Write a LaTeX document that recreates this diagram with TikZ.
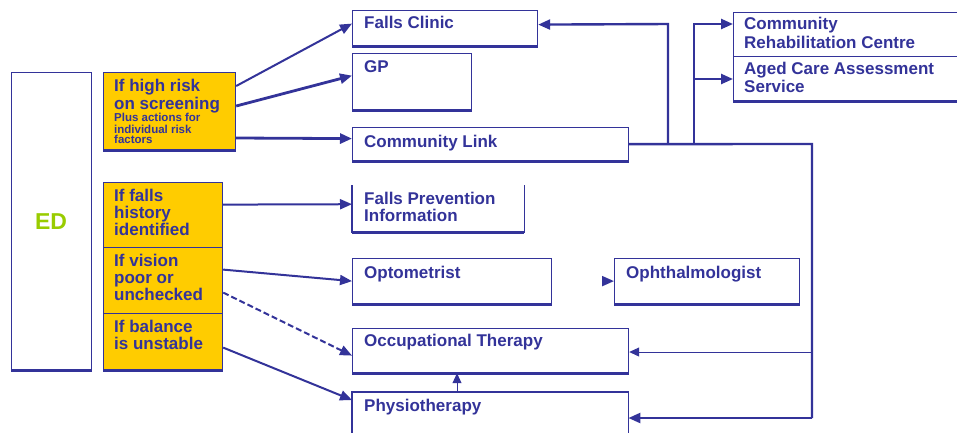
\documentclass[tikz,border=0pt]{standalone}
\usepackage{fontspec}
\setmainfont{Liberation Sans}
\usetikzlibrary{arrows.meta}
\definecolor{navy}{RGB}{51,51,153}
\definecolor{amber}{RGB}{255,204,0}
\definecolor{lime}{RGB}{153,204,0}

\begin{document}
\begin{tikzpicture}[x=1pt,y=-1pt,
  box/.style={draw=navy, line width=1.2pt, inner sep=0pt, anchor=north west},
  cond/.style={box, fill=amber},
  frame/.style={inner sep=0pt, anchor=north west},
  side/.style={draw=navy, line width=1.2pt},
  floor/.style={draw=navy, line width=2.6pt},
  lbl/.style={text=navy, font=\bfseries\fontsize{17}{17}\selectfont, anchor=base west, inner sep=0pt},
  small/.style={lbl, font=\bfseries\fontsize{11.5}{11.5}\selectfont},
  tip/.style={-{Triangle[length=12pt,width=10pt]}},
  link/.style={draw=navy, line width=2pt, tip},
  heavylink/.style={draw=navy, line width=2.8pt, tip},
  trunk/.style={draw=navy, line width=2.4pt},
  twig/.style={draw=navy, line width=1pt, -{Triangle[length=10pt,width=9pt]}}
]
\useasboundingbox (0,0) rectangle (957,432);
\clip (0,0) rectangle (957,432);

% ---------- left column ----------
\node[box, minimum width=80, minimum height=297] (ed) at (11,72) {};
\node[text=lime, font=\bfseries\fontsize{23}{23}\selectfont, inner sep=0pt] (edt) at (51,222) {ED};

\node[cond, minimum width=132, minimum height=77] (hr) at (103,72) {};
\node[lbl] (hr1) at ([shift={(11,19)}]hr.north west) {If high risk};
\node[lbl] (hr2) at ([shift={(11,37)}]hr.north west) {on screening};
\node[small] (hr3) at ([shift={(11,49)}]hr.north west) {Plus actions for};
\node[small] (hr4) at ([shift={(11,61)}]hr.north west) {individual risk};
\node[small] (hr5) at ([shift={(11,71)}]hr.north west) {factors};

\node[cond, minimum width=119, minimum height=65] (fh) at (103,182) {};
\node[lbl] (fh1) at ([shift={(11,19)}]fh.north west) {If falls};
\node[lbl] (fh2) at ([shift={(11,36)}]fh.north west) {history};
\node[lbl] (fh3) at ([shift={(11,53)}]fh.north west) {identified};

\node[cond, minimum width=119, minimum height=66] (vi) at (103,247) {};
\node[lbl] (vi1) at ([shift={(11,19)}]vi.north west) {If vision};
\node[lbl] (vi2) at ([shift={(11,36)}]vi.north west) {poor or};
\node[lbl] (vi3) at ([shift={(11,53)}]vi.north west) {unchecked};

\node[cond, minimum width=119, minimum height=56] (ba) at (103,313) {};
\node[lbl] (ba1) at ([shift={(11,19)}]ba.north west) {If balance};
\node[lbl] (ba2) at ([shift={(11,36)}]ba.north west) {is unstable};

% ---------- services ----------
\node[box, minimum width=185, minimum height=35] (fc) at (352,10) {};
\node[lbl] (fct) at ([shift={(12,18)}]fc.north west) {Falls Clinic};

\node[box, minimum width=119, minimum height=56] (gp) at (352,53) {};
\node[lbl] (gpt) at ([shift={(12,19)}]gp.north west) {GP};

\node[box, minimum width=276, minimum height=33] (cl) at (352,127) {};
\node[lbl] (clt) at ([shift={(12,20)}]cl.north west) {Community Link};

\node[frame, minimum width=172, minimum height=47] (fp) at (352,185) {};
\draw[side] (fp.north west) -- (fp.south west) -- (fp.south east) -- (fp.north east);
\node[lbl] (fp1) at ([shift={(12,19)}]fp.north west) {Falls Prevention};
\node[lbl] (fp2) at ([shift={(12,36)}]fp.north west) {Information};

\node[box, minimum width=199, minimum height=45] (op) at (352,258) {};
\node[lbl] (opt) at ([shift={(12,20)}]op.north west) {Optometrist};

\node[box, minimum width=185, minimum height=45] (oph) at (614,258) {};
\node[lbl] (opht) at ([shift={(12,20)}]oph.north west) {Ophthalmologist};

\node[box, minimum width=276, minimum height=44] (ot) at (352,328) {};
\node[lbl] (ott) at ([shift={(12,18)}]ot.north west) {Occupational Therapy};

\node[frame, minimum width=276, minimum height=50] (ph) at (352,392) {};
\draw[side] (ph.south west) -- (ph.north west) -- (ph.north east) -- (ph.south east);
\node[lbl] (pht) at ([shift={(12,19)}]ph.north west) {Physiotherapy};

\node[box, minimum width=250, minimum height=44] (rc) at (733,12) {};
\node[lbl] (rc1) at ([shift={(11,17)}]rc.north west) {Community};
\node[lbl] (rc2) at ([shift={(11,36)}]rc.north west) {Rehabilitation Centre};

\node[box, minimum width=250, minimum height=44] (ac) at (733,56) {};
\node[lbl] (ac1) at ([shift={(11,18)}]ac.north west) {Aged Care Assessment};
\node[lbl] (ac2) at ([shift={(11,36)}]ac.north west) {Service};

% heavier lower edges
\foreach \n in {ed,hr,ba,fc,gp,cl,fp,op,oph,ot,ac}
  \draw[floor] (\n.south west) -- (\n.south east);

% ---------- referrals from ED ----------
\draw[link] ([yshift=-14pt]hr.north east) -- ([yshift=4.5pt]fc.west);
\draw[heavylink] ([yshift=-34pt]hr.north east) -- ([yshift=6pt]gp.west);
\draw[heavylink] ([yshift=-66pt]hr.north east) -- ([yshift=5.5pt]cl.west);
\draw[link] ([yshift=10.5pt]fh.east) -- ([yshift=4.5pt]fp.west);
\draw[link] ([yshift=11pt]vi.east) -- (op.west);
\draw[link, dash pattern=on 6pt off 3pt] ([yshift=-12pt]vi.east) -- ([yshift=-5pt]ot.west);
\draw[link] ([yshift=-6pt]ba.east) -- ([yshift=-8pt]ph.north west);
\draw[link] ([xshift=-11pt]oph.west) -- (oph.west);

% ---------- onward pathways from Community Link ----------
\coordinate (ja) at (668,144);
\coordinate (jb) at (694,144);
\coordinate (rt) at (812,144);
\coordinate (rb) at (812,418);
\coordinate (rm) at (812,352);
\draw[trunk] (cl.east) -- (rt) -- (rb);
\draw[trunk, tip] (rb) -- (ph.east |- rb);
\draw[twig] (rm) -- (ot.east |- rm);
\draw[trunk, tip] (ja) -- (668,24) -- ([yshift=3.5pt]fc.east);
\draw[trunk, tip] (jb) -- (694,24) -- (rc.west |- 0,24);
\draw[trunk, tip] (694,79) -- (ac.west |- 0,79);
\draw[twig] ([xshift=105pt]ph.north west) -- ([xshift=105pt]ot.south west);
\end{tikzpicture}
\end{document}
